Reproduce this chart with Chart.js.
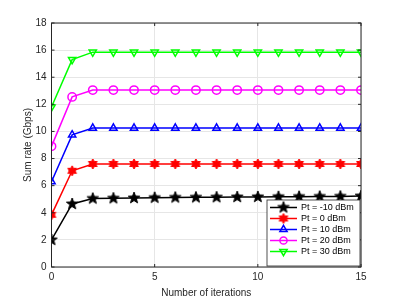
<!DOCTYPE html>
<html>
<head>
<meta charset="utf-8">
<script src="https://cdn.jsdelivr.net/npm/chart.js@4.4.0/dist/chart.umd.min.js"></script>
<style>
  html, body { margin: 0; padding: 0; background: #fff; }
  #wrap { width: 399px; height: 299px; }
</style>
</head>
<body>
<div id="wrap"><canvas id="rateChart" width="399" height="299"></canvas></div>
<script>
// Data
const iterations = [0, 1, 2, 3, 4, 5, 6, 7, 8, 9, 10, 11, 12, 13, 14, 15];
const seriesLabels = ["Pt = -10 dBm", "Pt = 0 dBm", "Pt = 10 dBm", "Pt = 20 dBm", "Pt = 30 dBm"];
const rateM10 = [2.0, 4.65, 5.05, 5.07, 5.09, 5.11, 5.13, 5.14, 5.15, 5.16, 5.17, 5.18, 5.19, 5.2, 5.21, 5.23];
const rate0 = [3.85, 7.1, 7.6, 7.6, 7.6, 7.6, 7.6, 7.6, 7.6, 7.6, 7.6, 7.6, 7.6, 7.6, 7.6, 7.6];
const rate10 = [6.3, 9.75, 10.25, 10.25, 10.25, 10.25, 10.25, 10.25, 10.25, 10.25, 10.25, 10.25, 10.25, 10.25, 10.25, 10.25];
const rate20 = [8.9, 12.55, 13.05, 13.05, 13.05, 13.05, 13.05, 13.05, 13.05, 13.05, 13.05, 13.05, 13.05, 13.05, 13.05, 13.05];
const rate30 = [11.8, 15.3, 15.85, 15.85, 15.85, 15.85, 15.85, 15.85, 15.85, 15.85, 15.85, 15.85, 15.85, 15.85, 15.85, 15.85];
const xTicks = [0, 5, 10, 15];
const yTicks = [0, 2, 4, 6, 8, 10, 12, 14, 16, 18];

const axisColor = '#262626';
const fontFamily = '"Liberation Sans", Arial, Helvetica, sans-serif';

// filled star markers (MATLAB pentagram / hexagram)
function starMarker(points, outer, inner, color) {
  const size = Math.ceil(outer * 2 + 2);
  const c = document.createElement('canvas');
  c.width = size; c.height = size;
  const g = c.getContext('2d');
  g.fillStyle = color;
  g.strokeStyle = color;
  g.lineWidth = 1;
  g.beginPath();
  for (let i = 0; i < points * 2; i++) {
    const r = i % 2 === 0 ? outer : inner;
    const a = -Math.PI / 2 + i * Math.PI / points;
    const px = size / 2 + r * Math.cos(a);
    const py = size / 2 + r * Math.sin(a);
    if (i === 0) g.moveTo(px, py); else g.lineTo(px, py);
  }
  g.closePath();
  g.fill();
  g.stroke();
  return c;
}
const pentagram = starMarker(5, 6, 2.5, '#000000');
const hexagram = starMarker(6, 5, 2.9, '#ff0000');

function lineSet(label, data, color, style, rotation) {
  return {
    label: label,
    data: data,
    borderColor: color,
    backgroundColor: 'rgba(0,0,0,0)',
    borderWidth: 1.5,
    pointStyle: style,
    pointRotation: rotation || 0,
    pointRadius: 4.2,
    pointBorderWidth: 1.5,
    pointBorderColor: color,
    pointBackgroundColor: 'rgba(0,0,0,0)',
    tension: 0
  };
}

// box, inner ticks and legend like the MATLAB figure
const figureBox = {
  id: 'figureBox',
  afterDatasetsDraw(chart) {
    const ctx = chart.ctx;
    const a = chart.chartArea;
    const xs = chart.scales.x, ys = chart.scales.y;
    ctx.save();
    ctx.strokeStyle = axisColor;
    ctx.lineWidth = 1;
    ctx.strokeRect(a.left, a.top, a.right - a.left, a.bottom - a.top);
    ctx.beginPath();
    xTicks.forEach(v => {
      const px = xs.getPixelForValue(v);
      ctx.moveTo(px, a.bottom); ctx.lineTo(px, a.bottom - 3);
      ctx.moveTo(px, a.top); ctx.lineTo(px, a.top + 3);
    });
    yTicks.forEach(v => {
      const py = ys.getPixelForValue(v);
      ctx.moveTo(a.left, py); ctx.lineTo(a.left + 3, py);
      ctx.moveTo(a.right, py); ctx.lineTo(a.right - 3, py);
    });
    ctx.stroke();

    // legend
    const lx = 267, ly = 200, lw = 93, lh = 66;
    ctx.fillStyle = '#ffffff';
    ctx.fillRect(lx, ly, lw, lh);
    ctx.strokeStyle = axisColor;
    ctx.lineWidth = 0.8;
    ctx.strokeRect(lx, ly, lw, lh);
    ctx.font = '9px ' + fontFamily;
    ctx.textBaseline = 'middle';
    chart.data.datasets.forEach((ds, i) => {
      const y = ly + 7.5 + i * 11;
      ctx.strokeStyle = ds.borderColor;
      ctx.lineWidth = 1.5;
      ctx.beginPath();
      ctx.moveTo(270, y); ctx.lineTo(297, y);
      ctx.stroke();
      const mx = 283.5;
      if (ds.pointStyle instanceof HTMLCanvasElement) {
        ctx.drawImage(ds.pointStyle, mx - ds.pointStyle.width / 2, y - ds.pointStyle.height / 2);
      } else if (ds.pointStyle === 'circle') {
        ctx.beginPath();
        ctx.arc(mx, y, 3.6, 0, Math.PI * 2);
        ctx.stroke();
      } else {
        const r = 4.2;
        const dir = ds.pointRotation === 180 ? -1 : 1;
        ctx.beginPath();
        ctx.moveTo(mx, y - dir * r);
        ctx.lineTo(mx + r * 0.866, y + dir * r * 0.5);
        ctx.lineTo(mx - r * 0.866, y + dir * r * 0.5);
        ctx.closePath();
        ctx.stroke();
      }
      ctx.fillStyle = '#000000';
      ctx.fillText(seriesLabels[i], 301, y + 0.5);
    });
    ctx.restore();
  }
};

new Chart(document.getElementById('rateChart').getContext('2d'), {
  type: 'line',
  data: {
    labels: iterations,
    datasets: [
      lineSet(seriesLabels[0], rateM10, '#000000', pentagram),
      lineSet(seriesLabels[1], rate0, '#ff0000', hexagram),
      lineSet(seriesLabels[2], rate10, '#0000ff', 'triangle'),
      lineSet(seriesLabels[3], rate20, '#ff00ff', 'circle'),
      lineSet(seriesLabels[4], rate30, '#00ff00', 'triangle', 180)
    ]
  },
  options: {
    responsive: false,
    animation: false,
    layout: { padding: { left: 0, right: 38, top: 23, bottom: 0 } },
    plugins: {
      legend: { display: false },
      tooltip: { enabled: false }
    },
    scales: {
      x: {
        type: 'linear',
        min: 0,
        max: 15,
        afterBuildTicks: scale => { scale.ticks = xTicks.map(v => ({ value: v })); },
        afterFit: scale => { scale.height = 32; },
        grid: { color: '#e6e6e6', drawTicks: false },
        border: { display: false },
        ticks: { color: axisColor, font: { family: fontFamily, size: 10 }, padding: 4, maxRotation: 0 },
        title: { display: true, text: 'Number of iterations', color: axisColor, font: { family: fontFamily, size: 10 }, padding: { top: 1, bottom: 0 } }
      },
      y: {
        min: 0,
        max: 18,
        afterBuildTicks: scale => { scale.ticks = yTicks.map(v => ({ value: v })); },
        afterFit: scale => { scale.width = 51.5; },
        grid: { color: '#e6e6e6', drawTicks: false },
        border: { display: false },
        ticks: { color: axisColor, font: { family: fontFamily, size: 10 }, padding: 5 },
        title: { display: true, text: 'Sum rate (Gbps)', color: axisColor, font: { family: fontFamily, size: 10 }, padding: { top: 22, bottom: 0 } }
      }
    }
  },
  plugins: [figureBox]
});
</script>
</body>
</html>
